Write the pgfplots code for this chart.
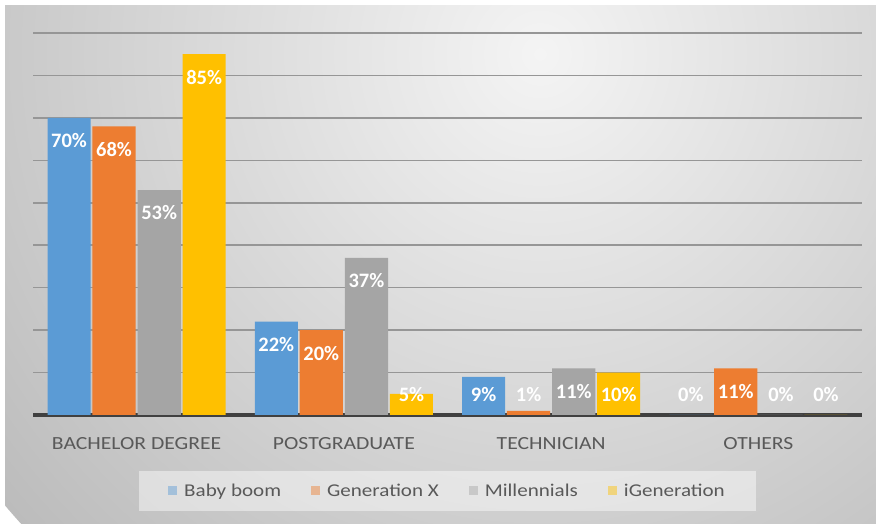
\documentclass[border=0pt]{standalone}
\usepackage{pgfplots}
\pgfplotsset{compat=1.18}
\usepackage{pgfplotstable}
\usepackage{fontspec}
\setmainfont{Carlito}[FakeStretch=1.17]
\newfontfamily\lblfont{Carlito}[FakeStretch=1.0]
\definecolor{cblue}{RGB}{91,155,213}
\definecolor{corange}{RGB}{237,125,49}
\definecolor{cgray}{RGB}{165,165,165}
\definecolor{cyellow}{RGB}{255,192,0}
\definecolor{txt}{RGB}{89,89,89}
\definecolor{gridc}{RGB}{150,150,150}
\definecolor{basec}{RGB}{64,64,64}
\pgfplotstableread{
x baby genx mill igen lbaby lgenx lmill ligen
0 70 68 53 85 64.6 62.6 47.6 79.6
1 22 20 37 5 16.6 14.6 31.6 4.9
2 9 1 11 10 4.9 4.9 5.6 4.9
3 0 11 0 0 4.9 5.6 4.9 4.9
}\datatable
\pgfplotsset{
  lbl/.style={forget plot, draw=none, mark=none, point meta=explicit symbolic,
    nodes near coords={\pgfplotspointmeta\%},
    every node near coord/.append style={anchor=center, text=white, inner sep=0pt,
      font=\lblfont\bfseries\fontsize{20.5}{20}\selectfont}},
  bar/.style={ybar, bar width=0.208, draw=none}
}
\begin{document}
\begin{tikzpicture}
\useasboundingbox (0,0) rectangle (876pt,524pt);
\fill[white] (0,0) rectangle (876pt,524pt);
\begin{scope}
\clip (5pt,0pt) rectangle (876pt,518pt);
\shade[inner color={rgb,255:red,244;green,244;blue,244}, outer color={rgb,255:red,188;green,188;blue,188}] (540pt,470pt) circle (700pt);
\end{scope}
\begin{axis}[
  at={(33pt,109pt)}, anchor=south west,
  scale only axis, width=829pt, height=382pt,
  xmin=-0.5, xmax=3.5, ymin=0, ymax=90,
  clip=false,
  axis x line*=bottom, axis y line*=left,
  x axis line style={-, basec, line width=3.2pt},
  y axis line style={draw=none},
  xtick={0,1,2,3},
  xticklabels={BACHELOR DEGREE,POSTGRADUATE,TECHNICIAN,OTHERS},
  xticklabel style={anchor=base, yshift=-35pt, font=\fontsize{18.5}{20}\selectfont, text=txt},
  ytick={10,20,...,90}, yticklabels={},
  ymajorgrids, grid style={gridc, line width=1.6pt},
  major tick length=0pt,
  legend style={at={(0.5,-0.199)}, anchor=center, draw=none, fill=white, fill opacity=0.45, text opacity=1,
    font=\fontsize{18}{20}\selectfont, text=txt, legend columns=4, inner xsep=29pt, inner ysep=11pt,
    /tikz/every odd column/.append style={column sep=5pt},
    /tikz/every even column/.append style={column sep=28pt}},
  legend image code/.code={\draw[#1, draw=none] (0pt,-4pt) rectangle (9pt,5pt);},
]
\addplot[bar, bar shift=-0.326, fill=cblue] table[x=x,y=baby]{\datatable};
\addplot[bar, bar shift=-0.109, fill=corange] table[x=x,y=genx]{\datatable};
\addplot[bar, bar shift=0.109, fill=cgray] table[x=x,y=mill]{\datatable};
\addplot[bar, bar shift=0.326, fill=cyellow] table[x=x,y=igen]{\datatable};
\legend{Baby boom, Generation X, Millennials, iGeneration}
\addplot[lbl] table[x expr=\thisrow{x}-0.326, y=lbaby, meta=baby]{\datatable};
\addplot[lbl] table[x expr=\thisrow{x}-0.109, y=lgenx, meta=genx]{\datatable};
\addplot[lbl] table[x expr=\thisrow{x}+0.109, y=lmill, meta=mill]{\datatable};
\addplot[lbl] table[x expr=\thisrow{x}+0.326, y=ligen, meta=igen]{\datatable};
\end{axis}
\end{tikzpicture}
\end{document}
